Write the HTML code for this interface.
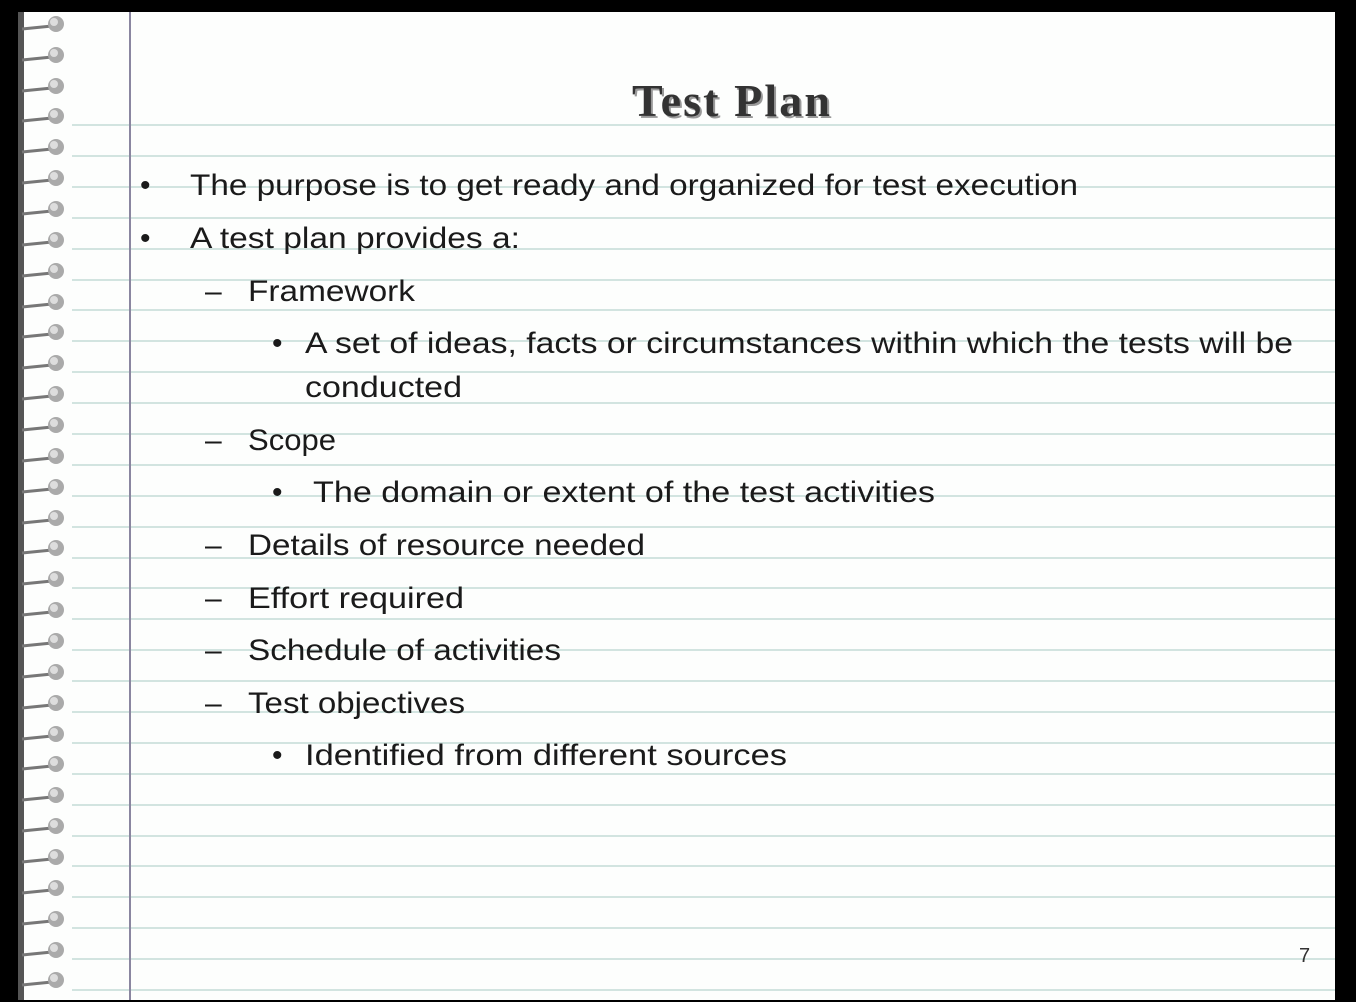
<!DOCTYPE html>
<html><head><style>
html,body{margin:0;padding:0;background:#000;}
svg{display:block}
</style></head><body>
<svg width="1356" height="1002" xmlns="http://www.w3.org/2000/svg">
<rect x="0" y="0" width="1356" height="1002" fill="#000"/>
<rect x="18" y="12" width="1317" height="988" fill="#fdfefd"/>
<rect x="18" y="12" width="6" height="988" fill="#555"/>
<g stroke="#d2e4e0" stroke-width="2">
<line x1="72" y1="125" x2="1335" y2="125"/><line x1="72" y1="156" x2="1335" y2="156"/><line x1="72" y1="187" x2="1335" y2="187"/><line x1="72" y1="218" x2="1335" y2="218"/><line x1="72" y1="249" x2="1335" y2="249"/><line x1="72" y1="280" x2="1335" y2="280"/><line x1="72" y1="310" x2="1335" y2="310"/><line x1="72" y1="341" x2="1335" y2="341"/><line x1="72" y1="372" x2="1335" y2="372"/><line x1="72" y1="403" x2="1335" y2="403"/><line x1="72" y1="434" x2="1335" y2="434"/><line x1="72" y1="465" x2="1335" y2="465"/><line x1="72" y1="496" x2="1335" y2="496"/><line x1="72" y1="527" x2="1335" y2="527"/><line x1="72" y1="558" x2="1335" y2="558"/><line x1="72" y1="588" x2="1335" y2="588"/><line x1="72" y1="619" x2="1335" y2="619"/><line x1="72" y1="650" x2="1335" y2="650"/><line x1="72" y1="681" x2="1335" y2="681"/><line x1="72" y1="712" x2="1335" y2="712"/><line x1="72" y1="743" x2="1335" y2="743"/><line x1="72" y1="774" x2="1335" y2="774"/><line x1="72" y1="805" x2="1335" y2="805"/><line x1="72" y1="836" x2="1335" y2="836"/><line x1="72" y1="866" x2="1335" y2="866"/><line x1="72" y1="897" x2="1335" y2="897"/><line x1="72" y1="928" x2="1335" y2="928"/><line x1="72" y1="959" x2="1335" y2="959"/><line x1="72" y1="990" x2="1335" y2="990"/>
</g>
<line x1="130" y1="12" x2="130" y2="1000" stroke="#8a86a0" stroke-width="2"/>
<g id="ring">
<line x1="22" y1="29" x2="52" y2="26" stroke="#777" stroke-width="3"/>
<circle cx="56" cy="24" r="8" fill="#aaa"/>
<circle cx="54" cy="22" r="4" fill="#ddd"/>
</g>
<use href="#ring" y="31"/><use href="#ring" y="62"/><use href="#ring" y="92"/><use href="#ring" y="123"/><use href="#ring" y="154"/><use href="#ring" y="185"/><use href="#ring" y="216"/><use href="#ring" y="247"/><use href="#ring" y="278"/><use href="#ring" y="308"/><use href="#ring" y="339"/><use href="#ring" y="370"/><use href="#ring" y="401"/><use href="#ring" y="432"/><use href="#ring" y="463"/><use href="#ring" y="494"/><use href="#ring" y="524"/><use href="#ring" y="555"/><use href="#ring" y="586"/><use href="#ring" y="617"/><use href="#ring" y="648"/><use href="#ring" y="679"/><use href="#ring" y="710"/><use href="#ring" y="740"/><use href="#ring" y="771"/><use href="#ring" y="802"/><use href="#ring" y="833"/><use href="#ring" y="864"/><use href="#ring" y="895"/><use href="#ring" y="926"/><use href="#ring" y="956"/>
<text x="733" y="118" text-anchor="middle" font-family="Liberation Serif, serif" font-weight="bold" font-size="46" fill="#999" textLength="198">Test Plan</text>
<text x="731" y="116" text-anchor="middle" font-family="Liberation Serif, serif" font-weight="bold" font-size="46" fill="#333" textLength="198">Test Plan</text>
<g font-family="Liberation Sans, sans-serif" font-size="30" fill="#1a1a1a">
<text x="140" y="195">•</text>
<text x="190" y="195" textLength="888" lengthAdjust="spacingAndGlyphs">The purpose is to get ready and organized for test execution</text>
<text x="140" y="248">•</text>
<text x="190" y="248" textLength="330" lengthAdjust="spacingAndGlyphs">A test plan provides a:</text>
<text x="205" y="301">–</text>
<text x="248" y="301" textLength="167" lengthAdjust="spacingAndGlyphs">Framework</text>
<text x="272" y="353">•</text>
<text x="305" y="353" textLength="988" lengthAdjust="spacingAndGlyphs">A set of ideas, facts or circumstances within which the tests will be</text>
<text x="305" y="397" textLength="157" lengthAdjust="spacingAndGlyphs">conducted</text>
<text x="205" y="450">–</text>
<text x="248" y="450" textLength="88" lengthAdjust="spacingAndGlyphs">Scope</text>
<text x="272" y="502">•</text>
<text x="313" y="502" textLength="622" lengthAdjust="spacingAndGlyphs">The domain or extent of the test activities</text>
<text x="205" y="555">–</text>
<text x="248" y="555" textLength="397" lengthAdjust="spacingAndGlyphs">Details of resource needed</text>
<text x="205" y="608">–</text>
<text x="248" y="608" textLength="216" lengthAdjust="spacingAndGlyphs">Effort required</text>
<text x="205" y="660">–</text>
<text x="248" y="660" textLength="313" lengthAdjust="spacingAndGlyphs">Schedule of activities</text>
<text x="205" y="713">–</text>
<text x="248" y="713" textLength="217" lengthAdjust="spacingAndGlyphs">Test objectives</text>
<text x="272" y="765">•</text>
<text x="305" y="765" textLength="482" lengthAdjust="spacingAndGlyphs">Identified from different sources</text>
</g>
<text x="1299" y="962" font-family="Liberation Sans, sans-serif" font-size="20" fill="#333">7</text>
</svg>
</body></html>
